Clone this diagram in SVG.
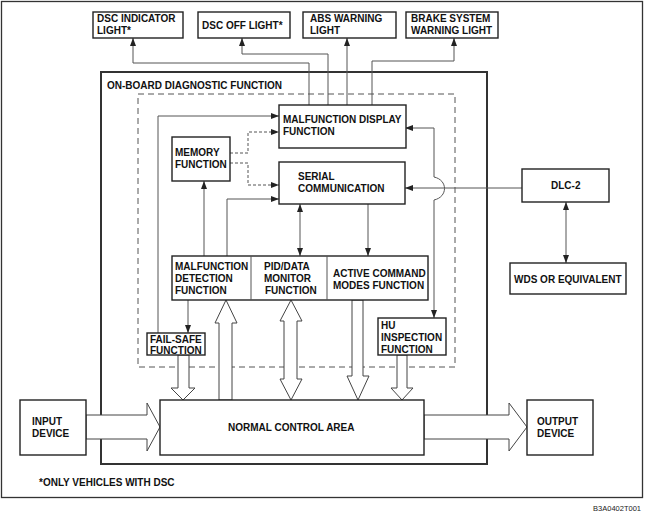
<svg xmlns="http://www.w3.org/2000/svg" width="645" height="518" viewBox="0 0 645 518">
<style>
.t{font-family:"Liberation Sans",Arial,sans-serif;font-weight:bold;font-size:10px;fill:#111}
.bx{fill:#fff;stroke:#222;stroke-width:1.4}
.ln{fill:none;stroke:#555;stroke-width:1}
.dl{fill:none;stroke:#555;stroke-width:1;stroke-dasharray:3,2}
.ha{fill:#fff;stroke:#444;stroke-width:1}
</style>
<defs>
<marker id="ah" viewBox="0 0 8 6" refX="8" refY="3" markerWidth="8" markerHeight="6" orient="auto-start-reverse" markerUnits="userSpaceOnUse"><path d="M0,0 L8,3 L0,6 z" fill="#222"/></marker>
</defs>
<rect x="1.5" y="1.5" width="641" height="496" fill="#fff" stroke="#333" stroke-width="1.3"/>
<g id="odf">
<rect x="101" y="72" width="386" height="392" fill="none" stroke="#333" stroke-width="2"/>
<text class="t" x="107" y="89">ON-BOARD DIAGNOSTIC FUNCTION</text>
<rect x="138" y="94" width="317" height="273" fill="none" stroke="#555" stroke-width="1" stroke-dasharray="6,4"/>
</g>
<g id="connectors">
<path class="ln" d="M309,105 V63 H133 V38" marker-end="url(#ah)"/>
<path class="ln" d="M328,105 V54 H242 V38" marker-end="url(#ah)"/>
<path class="ln" d="M347,105 V38" marker-end="url(#ah)"/>
<path class="ln" d="M372,105 V61 H454 V38" marker-end="url(#ah)"/>
<path class="ln" d="M158,333 V116 H279" marker-end="url(#ah)"/>
<path class="dl" d="M230,153 H248 V132 H279" marker-end="url(#ah)"/>
<path class="dl" d="M230,163 H248 V185 H279" marker-end="url(#ah)"/>
<path class="ln" d="M204,256 V181" marker-end="url(#ah)"/>
<path class="ln" d="M227,256 V199 H279" marker-end="url(#ah)"/>
<path class="ln" d="M300,204 V256" marker-start="url(#ah)" marker-end="url(#ah)"/>
<path class="ln" d="M368,204 V256" marker-end="url(#ah)"/>
<path class="ln" d="M522,188 H405" marker-end="url(#ah)"/>
<path class="ln" d="M405,128 H434 V177 C448,180 448,197 434,200 V318" marker-start="url(#ah)" marker-end="url(#ah)"/>
<path class="ln" d="M566,202 V263" marker-start="url(#ah)" marker-end="url(#ah)"/>
<path class="ln" d="M188,300 V333" marker-end="url(#ah)"/>
<polygon class="ha" points="86,415 147,415 147,403 160,427 147,451 147,439 86,439"/>
<polygon class="ha" points="424,415 509,415 509,403 527,427 509,451 509,439 424,439"/>
<polygon class="ha" points="178,355 189,355 189,388 195,388 183,400 171,388 178,388"/>
<polygon class="ha" points="226,300 237,323 232,323 232,400 219,400 219,323 215,323"/>
<polygon class="ha" points="291,300 302,321 297,321 297,379 302,379 291,400 280,379 284,379 284,321 280,321"/>
<polygon class="ha" points="352,300 363,300 363,376 369,376 358,400 347,376 352,376"/>
<polygon class="ha" points="397,355 407,355 407,388 413,388 402,400 391,388 397,388"/>
</g>
<g id="dsc-indicator"><rect class="bx" x="93" y="12" width="90" height="26"/><text class="t" x="97" y="22">DSC INDICATOR</text><text class="t" x="97" y="34">LIGHT*</text></g>
<g id="dsc-off"><rect class="bx" x="198" y="12" width="92" height="26"/><text class="t" x="202" y="29">DSC OFF LIGHT*</text></g>
<g id="abs"><rect class="bx" x="303" y="12" width="93" height="26"/><text class="t" x="310" y="22">ABS WARNING</text><text class="t" x="310" y="34">LIGHT</text></g>
<g id="brake"><rect class="bx" x="406" y="12" width="92" height="26"/><text class="t" x="411" y="22">BRAKE SYSTEM</text><text class="t" x="411" y="34">WARNING LIGHT</text></g>
<g id="malf-display"><rect class="bx" x="279" y="105" width="127" height="43"/><text class="t" x="283" y="123">MALFUNCTION DISPLAY</text><text class="t" x="283" y="135">FUNCTION</text></g>
<g id="memory"><rect class="bx" x="172" y="137" width="58" height="44"/><text class="t" x="175" y="156">MEMORY</text><text class="t" x="175" y="168">FUNCTION</text></g>
<g id="serial"><rect class="bx" x="279" y="162" width="126" height="42"/><text class="t" x="298" y="180">SERIAL</text><text class="t" x="298" y="192">COMMUNICATION</text></g>
<g id="functions">
<rect class="bx" x="172" y="256" width="256" height="44"/>
<line x1="251" y1="256" x2="251" y2="300" stroke="#555" stroke-width="1"/>
<line x1="327" y1="256" x2="327" y2="300" stroke="#555" stroke-width="1"/>
<text class="t" x="175" y="270">MALFUNCTION</text><text class="t" x="175" y="282">DETECTION</text><text class="t" x="175" y="294">FUNCTION</text>
<text class="t" x="264" y="270">PID/DATA</text><text class="t" x="264" y="282">MONITOR</text><text class="t" x="265" y="294">FUNCTION</text>
<text class="t" x="333" y="277">ACTIVE COMMAND</text><text class="t" x="333" y="289">MODES FUNCTION</text>
</g>
<g id="fail-safe"><rect class="bx" x="147" y="333" width="58" height="22"/><text class="t" x="150" y="343">FAIL-SAFE</text><text class="t" x="150" y="354">FUNCTION</text></g>
<g id="hu"><rect class="bx" x="378" y="318" width="68" height="37"/><text class="t" x="381" y="329">HU</text><text class="t" x="381" y="341">INSPECTION</text><text class="t" x="381" y="353">FUNCTION</text></g>
<g id="dlc"><rect class="bx" x="522" y="169" width="87" height="33"/><text class="t" x="551" y="189">DLC-2</text></g>
<g id="wds"><rect class="bx" x="510" y="263" width="116" height="31"/><text class="t" x="514" y="283">WDS OR EQUIVALENT</text></g>
<g id="input"><rect class="bx" x="20" y="400" width="66" height="55"/><text class="t" x="32" y="425">INPUT</text><text class="t" x="32" y="437">DEVICE</text></g>
<g id="nca"><rect class="bx" x="160" y="400" width="264" height="55"/><text class="t" x="228" y="431">NORMAL CONTROL AREA</text></g>
<g id="output"><rect class="bx" x="527" y="400" width="66" height="55"/><text class="t" x="537" y="425">OUTPUT</text><text class="t" x="537" y="437">DEVICE</text></g>
<text class="t" x="39" y="486">*ONLY VEHICLES WITH DSC</text>
<text x="641" y="511" text-anchor="end" style="font-family:'Liberation Sans',Arial,sans-serif;font-size:7.5px;fill:#222">B3A0402T001</text>
</svg>
